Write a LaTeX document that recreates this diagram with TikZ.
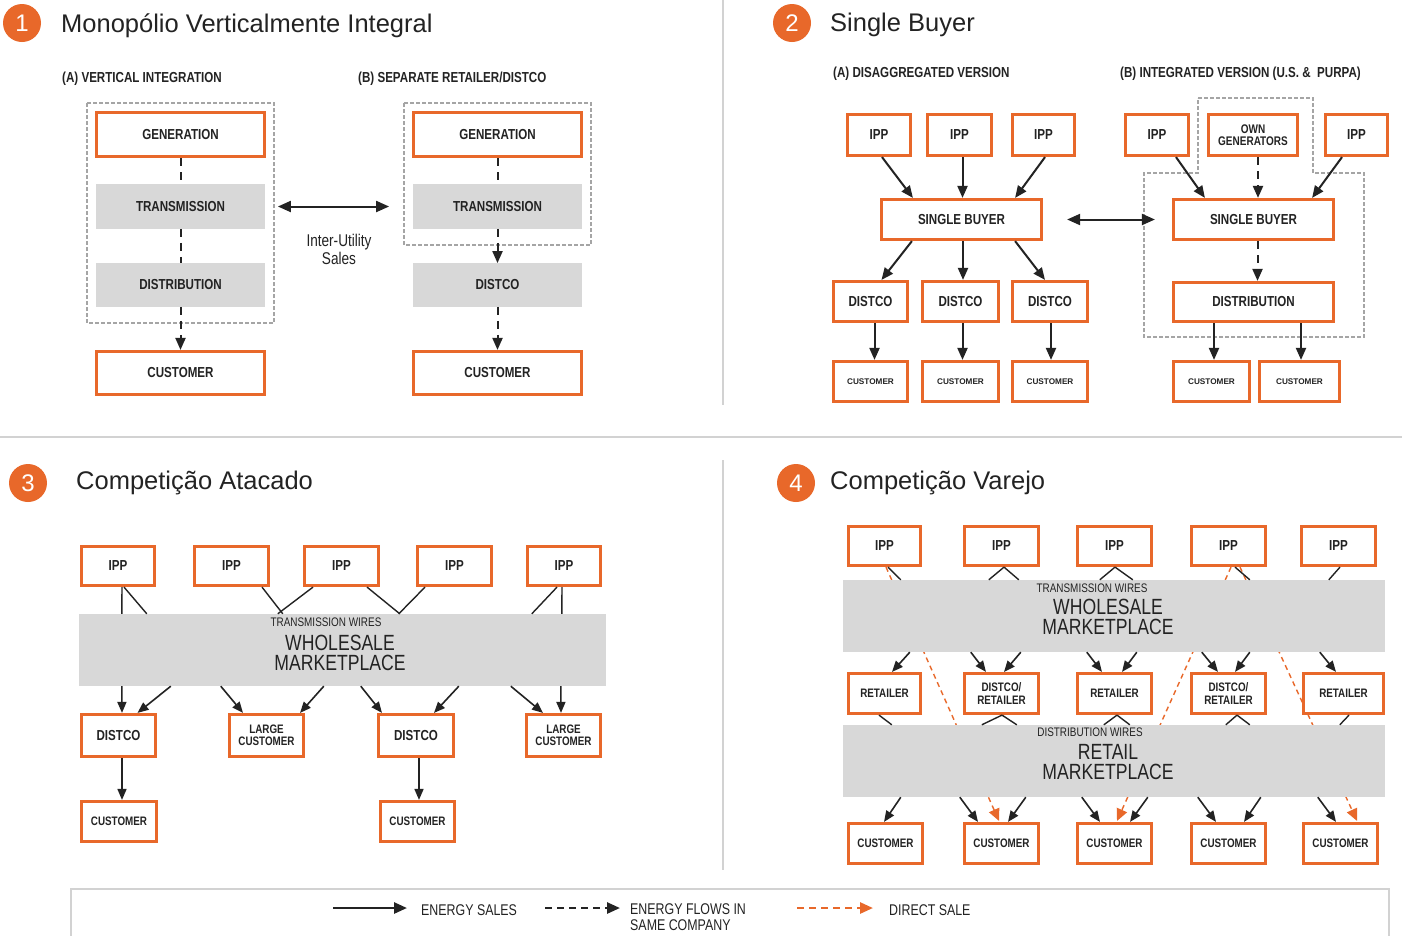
\documentclass[tikz,border=0pt]{standalone}
\usepackage{fontspec}
\setmainfont{Liberation Sans}
\newfontfamily\cond{Liberation Sans}[FakeStretch=0.8]
\usetikzlibrary{arrows.meta,calc}
\pgfdeclarelayer{bg}
\pgfsetlayers{bg,main}
\definecolor{org}{RGB}{232,104,42}
\definecolor{bandc}{RGB}{216,216,216}
\definecolor{ink}{RGB}{35,35,35}
\definecolor{sepc}{RGB}{210,210,210}
\definecolor{grpc}{RGB}{165,165,165}
\newcommand\mkbox[7]{\node[#1,minimum width={#5-#3-2.6},minimum height={#6-#4-2.6}] (#2) at ({(#3+#5)/2},{(#4+#6)/2}) {#7};}
\tikzset{
 obox/.style={draw=org,line width=2.8pt,fill=white,inner sep=0pt,align=center,text=ink,font=\cond\bfseries\fontsize{14.5}{15}\selectfont},
 gbox/.style={fill=bandc,inner sep=0pt,align=center,text=ink,font=\cond\bfseries\fontsize{14.5}{15}\selectfont},
 bandnode/.style={fill=bandc,inner sep=0pt},
 fsm/.style={font=\cond\bfseries\fontsize{12.3}{12.5}\selectfont},
 ftiny/.style={font=\fontsize{8.2}{9}\selectfont\bfseries},
 fown/.style={font=\cond\bfseries\fontsize{12.5}{12}\selectfont},
 parr/.style={draw=ink,line width=2pt,-{Triangle[length=12pt,width=10pt]}},
 parrs/.style={draw=ink,line width=1.6pt,-{Triangle[length=11pt,width=9pt]}},
 pdl/.style={draw=ink,line width=2pt,dash pattern=on 8pt off 6pt},
 pdla/.style={pdl,-{Triangle[length=12pt,width=10pt]}},
 pln/.style={draw=ink,line width=1.4pt},
 oda/.style={draw=org,line width=1.4pt,dash pattern=on 5pt off 4pt,-{Triangle[length=12pt,width=11pt]}},
 grp/.style={draw=grpc,line width=1.2pt,dash pattern=on 4pt off 2pt},
 sepl/.style={draw=sepc,line width=1.3pt},
 circ/.style={circle,fill=org,minimum size=38pt,inner sep=0pt,text=white,font=\fontsize{24}{24}\selectfont},
 ttl/.style={anchor=west,inner sep=0pt,text=ink,font=\fontsize{25.5}{26}\selectfont},
 hdr/.style={anchor=west,inner sep=0pt,text=ink,font=\cond\bfseries\fontsize{14.5}{15}\selectfont},
 bandsm/.style={text=ink,inner sep=0pt,font=\cond\fontsize{12.4}{12}\selectfont},
 bandbig/.style={text=ink,inner sep=0pt,align=center,font=\cond\fontsize{22}{20.5}\selectfont},
 legt/.style={anchor=west,inner sep=0pt,text=ink,align=left,font=\cond\fontsize{15.5}{16}\selectfont},
}
\begin{document}
\begin{tikzpicture}[x=1pt,y=-1pt]
\useasboundingbox (0,0) rectangle (1402,935);
\begin{pgfonlayer}{bg}
\fill[white] (0,0) rectangle (1402,935);
\end{pgfonlayer}
% separators
\draw[sepl] (723,0) -- (723,405);
\draw[sepl] (0,437) -- (1402,437);
\draw[sepl] (723,460) -- (723,870);

% ---------------- Panel 1
\node[circ] (c1) at (22,23) {1};
\node[ttl] (t1) at (61,26) {Monopólio Verticalmente Integral};
\node[hdr] (h1a) at (62,79) {(A) VERTICAL INTEGRATION};
\node[hdr] (h1b) at (358,79) {(B) SEPARATE RETAILER/DISTCO};
\draw[grp] (87,103) rectangle (274,323);
\draw[grp] (404,103) rectangle (591,245);
\mkbox{obox}{genA}{95}{111}{266}{158}{GENERATION}
\mkbox{gbox}{trA}{95}{183}{266}{230}{TRANSMISSION}
\mkbox{gbox}{diA}{95}{262}{266}{308}{DISTRIBUTION}
\mkbox{obox}{cuA}{95}{350}{266}{396}{CUSTOMER}
\mkbox{obox}{genB}{412}{111}{583}{158}{GENERATION}
\mkbox{gbox}{trB}{412}{183}{583}{230}{TRANSMISSION}
\mkbox{gbox}{dsB}{412}{262}{583}{308}{DISTCO}
\mkbox{obox}{cuB}{412}{350}{583}{396}{CUSTOMER}
\draw[pdl] (genA.south) -- (trA.north);
\draw[pdl] (trA.south) -- (diA.north);
\draw[pdla] (diA.south) -- (cuA.north);
\draw[pdl] (genB.south) -- (trB.north);
\draw[pdla] (trB.south) -- (dsB.north);
\draw[pdla] (dsB.south) -- (cuB.north);
\draw[draw=ink,line width=2pt,{Triangle[length=13pt,width=11pt]}-{Triangle[length=13pt,width=11pt]}] ($(trA.east)+(13,0)$) -- ($(trB.west)+(-24,0)$);
\node[text=ink,align=center,inner sep=0pt,font=\cond\fontsize{17}{18}\selectfont] (iut) at (339,249) {Inter-Utility\\Sales};

% ---------------- Panel 2
\node[circ] (c2) at (792,23) {2};
\node[ttl] (t2) at (830,25) {Single Buyer};
\node[hdr] (h2a) at (833,74) {(A) DISAGGREGATED VERSION};
\node[hdr] (h2b) at (1120,74) {(B) INTEGRATED VERSION (U.S. \&\ \ PURPA)};
\draw[grp] (1198,98) -- (1313,98) -- (1313,173) -- (1364,173) -- (1364,337) -- (1144,337) -- (1144,173) -- (1198,173) -- cycle;
\mkbox{obox}{ipA1}{846}{113}{912}{157}{IPP}
\mkbox{obox}{ipA2}{926}{113}{993}{157}{IPP}
\mkbox{obox}{ipA3}{1011}{113}{1076}{157}{IPP}
\mkbox{obox}{sbA}{880}{198}{1043}{241}{SINGLE BUYER}
\mkbox{obox}{dcA1}{832}{280}{909}{323}{DISTCO}
\mkbox{obox}{dcA2}{921}{280}{1000}{323}{DISTCO}
\mkbox{obox}{dcA3}{1011}{280}{1089}{323}{DISTCO}
\mkbox{obox,ftiny}{cuA1}{832}{360}{909}{403}{CUSTOMER}
\mkbox{obox,ftiny}{cuA2}{921}{360}{1000}{403}{CUSTOMER}
\mkbox{obox,ftiny}{cuA3}{1011}{360}{1089}{403}{CUSTOMER}
\draw[parr] ($(ipA1.south)+(3,0)$) -- ($(sbA.north west)+(33,0)$);
\draw[parr] ($(ipA2.south)+(3,0)$) -- ($(ipA2.south |- sbA.north)+(3,0)$);
\draw[parr] ($(ipA3.south)+(1.5,0)$) -- ($(sbA.north east)+(-28,0)$);
\draw[parr] ($(sbA.south west)+(32,0)$) -- ($(dcA1.north)+(11,0)$);
\draw[parr] ($(sbA.south)+(1.5,0)$) -- ($(sbA.south |- dcA2.north)+(1.5,0)$);
\draw[parr] ($(sbA.south east)+(-28,0)$) -- ($(dcA3.north)+(-5,0)$);
\draw[parr] ($(dcA1.south)+(4,0)$) -- ($(cuA1.north)+(4,0)$);
\draw[parr] ($(dcA2.south)+(2,0)$) -- ($(cuA2.north)+(2,0)$);
\draw[parr] ($(dcA3.south)+(1,0)$) -- ($(cuA3.north)+(1,0)$);
\mkbox{obox}{ipB1}{1124}{113}{1190}{157}{IPP}
\mkbox{obox,fown}{own}{1207}{113}{1299}{157}{OWN\\GENERATORS}
\mkbox{obox}{ipB2}{1324}{113}{1389}{157}{IPP}
\mkbox{obox}{sbB}{1172}{198}{1335}{241}{SINGLE BUYER}
\mkbox{obox}{diB}{1172}{281}{1335}{323}{DISTRIBUTION}
\mkbox{obox,ftiny}{cuB1}{1172}{360}{1251}{403}{CUSTOMER}
\mkbox{obox,ftiny}{cuB2}{1258}{360}{1341}{403}{CUSTOMER}
\draw[draw=ink,line width=2pt,{Triangle[length=13pt,width=11pt]}-{Triangle[length=13pt,width=11pt]}] ($(sbA.east)+(24,0)$) -- ($(sbB.west)+(-17,0)$);
\draw[parr] ($(ipB1.south)+(19,0)$) -- ($(sbB.north west)+(33,0)$);
\draw[pdla] ($(own.south)+(5,0)$) -- ($(own.south |- sbB.north)+(5,0)$);
\draw[parr] ($(ipB2.south)+(-14.5,0)$) -- ($(sbB.north east)+(-23,0)$);
\draw[pdla] ($(sbB.south)+(4,0)$) -- ($(diB.north)+(4,0)$);
\draw[parr] ($(cuB1.north |- diB.south)+(2.5,0)$) -- ($(cuB1.north)+(2.5,0)$);
\draw[parr] ($(cuB2.north |- diB.south)+(1.5,0)$) -- ($(cuB2.north)+(1.5,0)$);

% ---------------- Panel 3
\node[circ] (c3) at (28,483) {3};
\node[ttl] (t3) at (76,483) {Competição Atacado};
\mkbox{obox}{ip3a}{80}{545}{156}{587}{IPP}
\mkbox{obox}{ip3b}{193}{545}{270}{587}{IPP}
\mkbox{obox}{ip3c}{303}{545}{380}{587}{IPP}
\mkbox{obox}{ip3d}{416}{545}{493}{587}{IPP}
\mkbox{obox}{ip3e}{526}{545}{602}{587}{IPP}
\node[bandnode,minimum width=527,minimum height=72] (wm3) at (342.5,650) {};
\node[bandsm] (wm3a) at (326,622) {TRANSMISSION WIRES};
\node[bandbig] (wm3b) at (340,653) {WHOLESALE\\MARKETPLACE};
\draw[pln] ($(ip3a.south)+(4,0)$) -- ($(wm3.north west)+(43,0)$);
\draw[pln] ($(ip3a.south)+(6,0)$) -- ($(wm3.north west)+(68,0)$);
\draw[pln] ($(ip3b.south)+(30.5,0)$) -- ($(wm3.north west)+(204,0)$);
\draw[pln] ($(ip3c.south)+(-28.5,0)$) -- ($(wm3.north west)+(199,0)$);
\draw[pln] ($(ip3c.south)+(25.5,0)$) -- ($(wm3.north west)+(321,0)$);
\draw[pln] ($(ip3d.south)+(-29.5,0)$) -- ($(wm3.north west)+(320,0)$);
\draw[pln] ($(ip3e.south)+(-7,0)$) -- ($(wm3.north west)+(453,0)$);
\draw[pln] ($(ip3e.south)+(-2,0)$) -- ($(wm3.north west)+(483,0)$);
\mkbox{obox}{dc3a}{80}{713}{157}{758}{DISTCO}
\mkbox{obox,fsm}{lc3a}{228}{713}{305}{758}{LARGE\\CUSTOMER}
\mkbox{obox}{dc3b}{377}{713}{455}{758}{DISTCO}
\mkbox{obox,fsm}{lc3b}{525}{713}{602}{758}{LARGE\\CUSTOMER}
\mkbox{obox,fsm}{cu3a}{80}{800}{158}{843}{CUSTOMER}
\mkbox{obox,fsm}{cu3b}{379}{800}{456}{843}{CUSTOMER}
\draw[parrs] ($(wm3.south west)+(43,0)$) -- ($(dc3a.north)+(3.5,0)$);
\draw[parrs] ($(wm3.south west)+(92,0)$) -- ($(dc3a.north)+(19,0)$);
\draw[parrs] ($(wm3.south west)+(142,0)$) -- ($(lc3a.north)+(-23.5,0)$);
\draw[parrs] ($(wm3.south west)+(245,0)$) -- ($(lc3a.north)+(33.5,0)$);
\draw[parrs] ($(wm3.south west)+(282,0)$) -- ($(dc3b.north)+(-34,0)$);
\draw[parrs] ($(wm3.south west)+(380,0)$) -- ($(dc3b.north)+(18,0)$);
\draw[parrs] ($(wm3.south west)+(432,0)$) -- ($(lc3b.north)+(-20.5,0)$);
\draw[parrs] ($(wm3.south west)+(482,0)$) -- ($(lc3b.north)+(-2.5,0)$);
\draw[parrs] ($(dc3a.south)+(3.5,0)$) -- ($(cu3a.north)+(3,0)$);
\draw[parrs] ($(dc3b.south)+(3,0)$) -- ($(cu3b.north)+(1.5,0)$);

% ---------------- Panel 4
\node[circ] (c4) at (796,483) {4};
\node[ttl] (t4) at (830,483) {Competição Varejo};
\mkbox{obox}{ip4a}{847}{525}{922}{567}{IPP}
\mkbox{obox}{ip4b}{963}{525}{1040}{567}{IPP}
\mkbox{obox}{ip4c}{1076}{525}{1153}{567}{IPP}
\mkbox{obox}{ip4d}{1190}{525}{1267}{567}{IPP}
\mkbox{obox}{ip4e}{1300}{525}{1377}{567}{IPP}
\mkbox{obox,fsm}{re4a}{847}{672}{922}{715}{RETAILER}
\mkbox{obox,fsm}{dr4a}{963}{672}{1040}{715}{DISTCO/\\RETAILER}
\mkbox{obox,fsm}{re4b}{1076}{672}{1153}{715}{RETAILER}
\mkbox{obox,fsm}{dr4b}{1190}{672}{1267}{715}{DISTCO/\\RETAILER}
\mkbox{obox,fsm}{re4c}{1302}{672}{1385}{715}{RETAILER}
\mkbox{obox,fsm}{cu4a}{847}{822}{924}{865}{CUSTOMER}
\mkbox{obox,fsm}{cu4b}{963}{822}{1040}{865}{CUSTOMER}
\mkbox{obox,fsm}{cu4c}{1076}{822}{1153}{865}{CUSTOMER}
\mkbox{obox,fsm}{cu4d}{1190}{822}{1267}{865}{CUSTOMER}
\mkbox{obox,fsm}{cu4e}{1302}{822}{1379}{865}{CUSTOMER}
\node[bandnode,minimum width=542,minimum height=72] (wm4) at (1114,616) {};
\node[bandnode,minimum width=542,minimum height=72] (rm4) at (1114,761) {};
\node[bandsm] (wm4a) at (1092,588) {TRANSMISSION WIRES};
\node[bandbig] (wm4b) at (1108,617) {WHOLESALE\\MARKETPLACE};
\node[bandsm] (rm4a) at (1090,732) {DISTRIBUTION WIRES};
\node[bandbig] (rm4b) at (1108,762) {RETAIL\\MARKETPLACE};
\begin{pgfonlayer}{bg}
\draw[oda] ($(ip4a.south)+(1.5,0)$) -- ($(cu4b.north)+(-2.5,-1)$);
\draw[oda] ($(ip4d.south)+(2.5,0)$) -- ($(cu4c.north)+(2.5,-1)$);
\draw[oda] ($(ip4d.south)+(11.5,0)$) -- ($(cu4e.north)+(16.5,-1)$);
\end{pgfonlayer}
% IPP -> wholesale
\draw[pln] ($(ip4a.south)+(3.5,0)$) -- ($(wm4.north west)+(58,0)$);
\draw[pln] ($(ip4b.south)+(2.5,0)$) -- ($(wm4.north west)+(146,0)$);
\draw[pln] ($(ip4b.south)+(2.5,0)$) -- ($(wm4.north west)+(176,0)$);
\draw[pln] ($(ip4c.south)+(0.5,0)$) -- ($(wm4.north west)+(257,0)$);
\draw[pln] ($(ip4c.south)+(0.5,0)$) -- ($(wm4.north west)+(290,0)$);
\draw[pln] ($(ip4d.south)+(6.5,0)$) -- ($(wm4.north west)+(407,0)$);
\draw[pln] ($(ip4e.south)+(1.5,0)$) -- ($(wm4.north west)+(486,0)$);
% wholesale -> middle row
\draw[parrs] ($(wm4.south west)+(67,0)$) -- ($(re4a.north)+(7.5,0)$);
\draw[parrs] ($(wm4.south west)+(128,0)$) -- ($(dr4a.north)+(-15.5,0)$);
\draw[parrs] ($(wm4.south west)+(178,0)$) -- ($(dr4a.north)+(2.5,0)$);
\draw[parrs] ($(wm4.south west)+(244,0)$) -- ($(re4b.north)+(-12.5,0)$);
\draw[parrs] ($(wm4.south west)+(294,0)$) -- ($(re4b.north)+(7.5,0)$);
\draw[parrs] ($(wm4.south west)+(359,0)$) -- ($(dr4b.north)+(-10.5,0)$);
\draw[parrs] ($(wm4.south west)+(407,0)$) -- ($(dr4b.north)+(6.5,0)$);
\draw[parrs] ($(wm4.south west)+(477,0)$) -- ($(re4c.north)+(-7.5,0)$);
% middle row -> retail
\draw[pln] ($(re4a.south)+(-5.5,0)$) -- ($(rm4.north west)+(49,0)$);
\draw[pln] ($(dr4a.south)+(0.5,0)$) -- ($(rm4.north west)+(139,0)$);
\draw[pln] ($(dr4a.south)+(0.5,0)$) -- ($(rm4.north west)+(174,0)$);
\draw[pln] ($(re4b.south)+(2.5,0)$) -- ($(rm4.north west)+(261,0)$);
\draw[pln] ($(re4b.south)+(2.5,0)$) -- ($(rm4.north west)+(287,0)$);
\draw[pln] ($(dr4b.south)+(8.5,0)$) -- ($(rm4.north west)+(383,0)$);
\draw[pln] ($(dr4b.south)+(8.5,0)$) -- ($(rm4.north west)+(407,0)$);
\draw[pln] ($(re4c.south)+(5.5,0)$) -- ($(rm4.north west)+(497,0)$);
% retail -> customers
\draw[parrs] ($(rm4.south west)+(58,0)$) -- ($(cu4a.north)+(-1.5,0)$);
\draw[parrs] ($(rm4.south west)+(117,0)$) -- ($(cu4b.north)+(-23.5,0)$);
\draw[parrs] ($(rm4.south west)+(183,0)$) -- ($(cu4b.north)+(6.5,0)$);
\draw[parrs] ($(rm4.south west)+(239,0)$) -- ($(cu4c.north)+(-14.5,0)$);
\draw[parrs] ($(rm4.south west)+(305,0)$) -- ($(cu4c.north)+(15.5,0)$);
\draw[parrs] ($(rm4.south west)+(355,0)$) -- ($(cu4d.north)+(-12.5,0)$);
\draw[parrs] ($(rm4.south west)+(418,0)$) -- ($(cu4d.north)+(15.5,0)$);
\draw[parrs] ($(rm4.south west)+(475,0)$) -- ($(cu4e.north)+(-4.5,0)$);

% ---------------- Legend
\draw[draw=sepc,line width=1.2pt] (71,889) rectangle (1389,945);
\coordinate (l1a) at (333,908); \coordinate (l1b) at (407,908);
\coordinate (l2a) at (545,908); \coordinate (l2b) at (620,908);
\coordinate (l3a) at (797,908); \coordinate (l3b) at (873,908);
\draw[draw=ink,line width=2.6pt,-{Triangle[length=13pt,width=11pt]}] (l1a) -- (l1b);
\draw[draw=ink,line width=2.6pt,dash pattern=on 7pt off 5pt,-{Triangle[length=13pt,width=11pt]}] (l2a) -- (l2b);
\draw[draw=org,line width=2.6pt,dash pattern=on 7pt off 5pt,-{Triangle[length=13pt,width=11pt]}] (l3a) -- (l3b);
\node[legt] (lt1) at (421,910) {ENERGY SALES};
\node[legt,anchor=north west] (lt2) at (630,903) {ENERGY FLOWS IN\\SAME COMPANY};
\node[legt] (lt3) at (889,910) {DIRECT SALE};
\end{tikzpicture}
\end{document}
